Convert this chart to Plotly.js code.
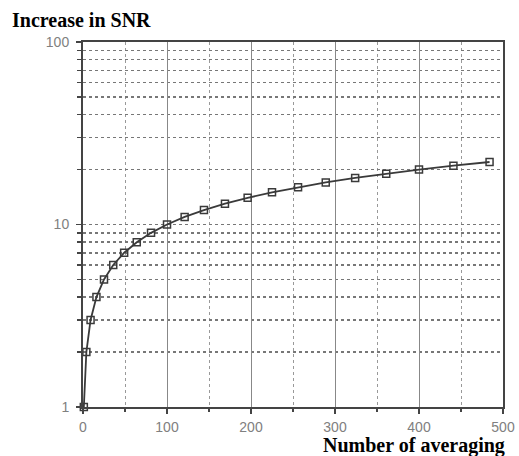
<!DOCTYPE html>
<html>
<head>
<meta charset="utf-8">
<script src="https://cdn.plot.ly/plotly-3.0.1.min.js"></script>
<style>html,body{margin:0;padding:0;background:#fff;}#chart{width:519px;height:456px;}</style>
</head>
<body>
<div id="chart"></div>
<script>
// Number of averaged records
const numAveraging = [1, 4, 9, 16, 25, 36, 49, 64, 81, 100, 121, 144, 169, 196, 225, 256, 289, 324, 361, 400, 441, 484];
// Increase in SNR
const snrIncrease = [1, 2, 3, 4, 5, 6, 7, 8, 9, 10, 11, 12, 13, 14, 15, 16, 17, 18, 19, 20, 21, 22];
const xTickVals = [0, 100, 200, 300, 400, 500];
const yTickVals = [1, 10, 100];
const yTickText = ['1', '10', '100'];
const yMinorVals = [2, 3, 4, 5, 6, 7, 8, 9, 20, 30, 40, 50, 60, 70, 80, 90];

const trace = {
  x: numAveraging,
  y: snrIncrease,
  type: 'scatter',
  mode: 'lines+markers',
  line: {color: '#3a3a3a', width: 1.8},
  marker: {symbol: 'square-open', size: 7, color: '#3a3a3a', line: {width: 1.5, color: '#3a3a3a'}},
  cliponaxis: false,
  showlegend: false
};

const layout = {
  width: 519, height: 456,
  margin: {l: 83, r: 16, t: 42, b: 49},
  paper_bgcolor: '#fff', plot_bgcolor: '#fff',
  title: {
    text: '<b>Increase in SNR</b>',
    font: {family: 'Liberation Serif, Times New Roman, serif', size: 20, color: '#000'},
    xref: 'container', yref: 'container',
    x: 12/519, xanchor: 'left', y: 1 - 20/456, yanchor: 'middle'
  },
  xaxis: {
    range: [0, 500],
    tickmode: 'array', tickvals: xTickVals,
    ticks: 'outside', ticklen: 5, tickwidth: 1.5, tickcolor: '#444',
    ticklabelstandoff: 1,
    tickfont: {family: 'Liberation Sans, Arial, sans-serif', size: 14, color: '#808080'},
    showline: true, linecolor: '#444', linewidth: 2, mirror: true,
    showgrid: true, gridcolor: '#888', gridwidth: 1,
    zeroline: false,
    minor: {dtick: 50, tick0: 0, ticks: 'outside', ticklen: 3, tickcolor: '#444', showgrid: true, gridcolor: '#999', griddash: 'dot', gridwidth: 1}
  },
  yaxis: {
    type: 'log', range: [0, 2],
    tickmode: 'array', tickvals: yTickVals, ticktext: yTickText,
    ticks: 'outside', ticklen: 5, tickwidth: 1.5, tickcolor: '#444',
    ticklabelstandoff: 4,
    tickfont: {family: 'Liberation Sans, Arial, sans-serif', size: 14, color: '#808080'},
    showline: true, linecolor: '#444', linewidth: 2, mirror: true,
    showgrid: true, gridcolor: '#777', gridwidth: 1.5, griddash: 'dot',
    zeroline: false,
    minor: {tickmode: 'array', tickvals: yMinorVals, ticks: 'outside', ticklen: 4, tickcolor: '#444', showgrid: true, gridcolor: '#777', griddash: 'dot', gridwidth: 1.5}
  },
  annotations: [{
    text: '<b>Number of averaging</b>',
    xref: 'paper', yref: 'paper',
    x: (507 - 83) / 420, xanchor: 'right',
    y: -38 / 365, yanchor: 'middle',
    showarrow: false,
    font: {family: 'Liberation Serif, Times New Roman, serif', size: 20, color: '#000'}
  }]
};

Plotly.newPlot('chart', [trace], layout, {displayModeBar: false, staticPlot: true});
</script>
</body>
</html>
